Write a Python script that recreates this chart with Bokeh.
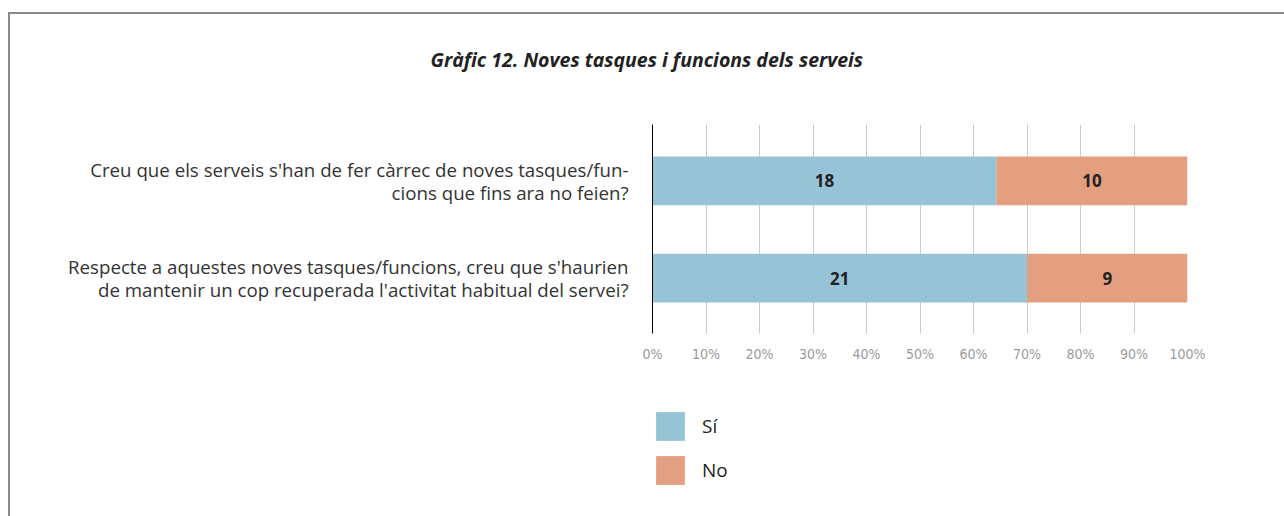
from bokeh.plotting import figure
from bokeh.layouts import column
from bokeh.models import (Range1d, FixedTicker, Legend, LegendItem, Title,
                          ColumnDataSource, LabelSet, PrintfTickFormatter)
from bokeh.embed import file_html
from bokeh.resources import INLINE
from bokeh.core.properties import value

title_text = "Gràfic 12. Noves tasques i funcions dels serveis"
questions = [
    "Creu que els serveis s'han de fer càrrec de noves tasques/fun-\ncions que fins ara no feien?",
    "Respecte a aquestes noves tasques/funcions, creu que s'haurien\nde mantenir un cop recuperada l'activitat habitual del servei?",
]
si_counts = [18, 21]
no_counts = [10, 9]
series_names = ["Sí", "No"]
series_colors = ["#96c3d6", "#e49f80"]
x_ticks = [0, 10, 20, 30, 40, 50, 60, 70, 80, 90, 100]

n = len(questions)
ys = [n - 1 - i for i in range(n)]
totals = [a + b for a, b in zip(si_counts, no_counts)]
si_pct = [a / t * 100 for a, t in zip(si_counts, totals)]
no_end = [100.0 for _ in totals]

src = ColumnDataSource(dict(
    y=ys, si=si_pct, end=no_end,
    si_mid=[p / 2 for p in si_pct],
    no_mid=[(p + 100) / 2 for p in si_pct],
    si_lbl=[str(v) for v in si_counts],
    no_lbl=[str(v) for v in no_counts],
))

FONT = "Open Sans"
W = 1274

# ---- title strip
t = figure(width=W, height=100, x_range=Range1d(0, 1), y_range=Range1d(0, 1),
           output_backend="svg", toolbar_location=None,
           x_axis_location=None, y_axis_location=None, min_border=0)
t.outline_line_color = None
t.grid.visible = False
t.title = Title(text=title_text, align="left", offset=-222, vertical_align="top",
                standoff=63, text_font=FONT, text_font_style="bold italic",
                text_font_size="19.5px", text_color="#222222")

# ---- chart
p = figure(width=W, height=259, x_range=Range1d(0, 100), y_range=Range1d(-0.57, 1.58),
           output_backend="svg", toolbar_location=None,
           min_border_left=642, min_border_right=97, min_border_top=10, min_border_bottom=40)
p.outline_line_color = None

r_si = p.hbar(y="y", left=0, right="si", height=0.5, source=src,
              fill_color=series_colors[0], line_color=None)
r_no = p.hbar(y="y", left="si", right="end", height=0.5, source=src,
              fill_color=series_colors[1], line_color=None)

for xcol, tcol in (("si_mid", "si_lbl"), ("no_mid", "no_lbl")):
    p.add_layout(LabelSet(x=xcol, y="y", text=tcol, source=src, text_align="center",
                          text_baseline="middle", text_font=value(FONT), text_font_style="bold",
                          text_font_size="17px", text_color="#222222"))

p.yaxis.ticker = FixedTicker(ticks=ys)
p.yaxis.major_label_overrides = {y: q for y, q in zip(ys, questions)}
p.yaxis.axis_line_color = "black"
p.yaxis.axis_line_width = 1
p.yaxis.major_tick_line_color = None
p.yaxis.minor_tick_line_color = None
p.yaxis.major_label_standoff = 18
p.yaxis.major_label_text_font = FONT
p.yaxis.major_label_text_font_size = "18.7px"
p.yaxis.major_label_text_color = "#333333"
p.yaxis.major_label_text_line_height = 0.9
p.ygrid.grid_line_color = None

p.xaxis.ticker = FixedTicker(ticks=x_ticks)
p.xaxis.formatter = PrintfTickFormatter(format="%d%%")
p.xaxis.axis_line_color = None
p.xaxis.major_tick_line_color = None
p.xaxis.minor_tick_line_color = None
p.xaxis.major_label_standoff = 6
p.xaxis.major_label_text_font = "DejaVu Sans Condensed"
p.xaxis.major_label_text_font_size = "14px"
p.xaxis.major_label_text_color = "#9a9a9a"
p.xgrid.ticker = FixedTicker(ticks=x_ticks)
p.xgrid.grid_line_color = "#cccccc"
p.xgrid.grid_line_width = 1

# ---- legend strip
lg = figure(width=W, height=143, x_range=Range1d(0, 1), y_range=Range1d(0, 1),
            output_backend="svg", toolbar_location=None,
            x_axis_location=None, y_axis_location=None,
            min_border_left=642, min_border_top=35, min_border_right=0, min_border_bottom=0)
lg.outline_line_color = None
lg.grid.visible = False
proxy = ColumnDataSource(dict(y=[-5], left=[0], right=[1]))
l_si = lg.hbar(y="y", left="left", right="right", height=0.5, source=proxy,
               fill_color=series_colors[0], line_color=None)
l_no = lg.hbar(y="y", left="left", right="right", height=0.5, source=proxy,
               fill_color=series_colors[1], line_color=None)
legend = Legend(items=[LegendItem(label=series_names[0], renderers=[l_si]),
                       LegendItem(label=series_names[1], renderers=[l_no])],
                orientation="vertical", location="top_left",
                glyph_width=36, glyph_height=36, spacing=8, label_standoff=14,
                padding=0, margin=0, border_line_color=None, background_fill_alpha=0,
                label_text_font=FONT, label_text_font_size="19px", label_text_color="#222222")
lg.add_layout(legend)

layout = column(t, p, lg, margin=(12, 0, 0, 8), spacing=0,
                styles={"border-left": "2px solid #8a8a8a", "border-top": "2px solid #8a8a8a"})

open("out.html", "w").write(file_html(layout, INLINE))
